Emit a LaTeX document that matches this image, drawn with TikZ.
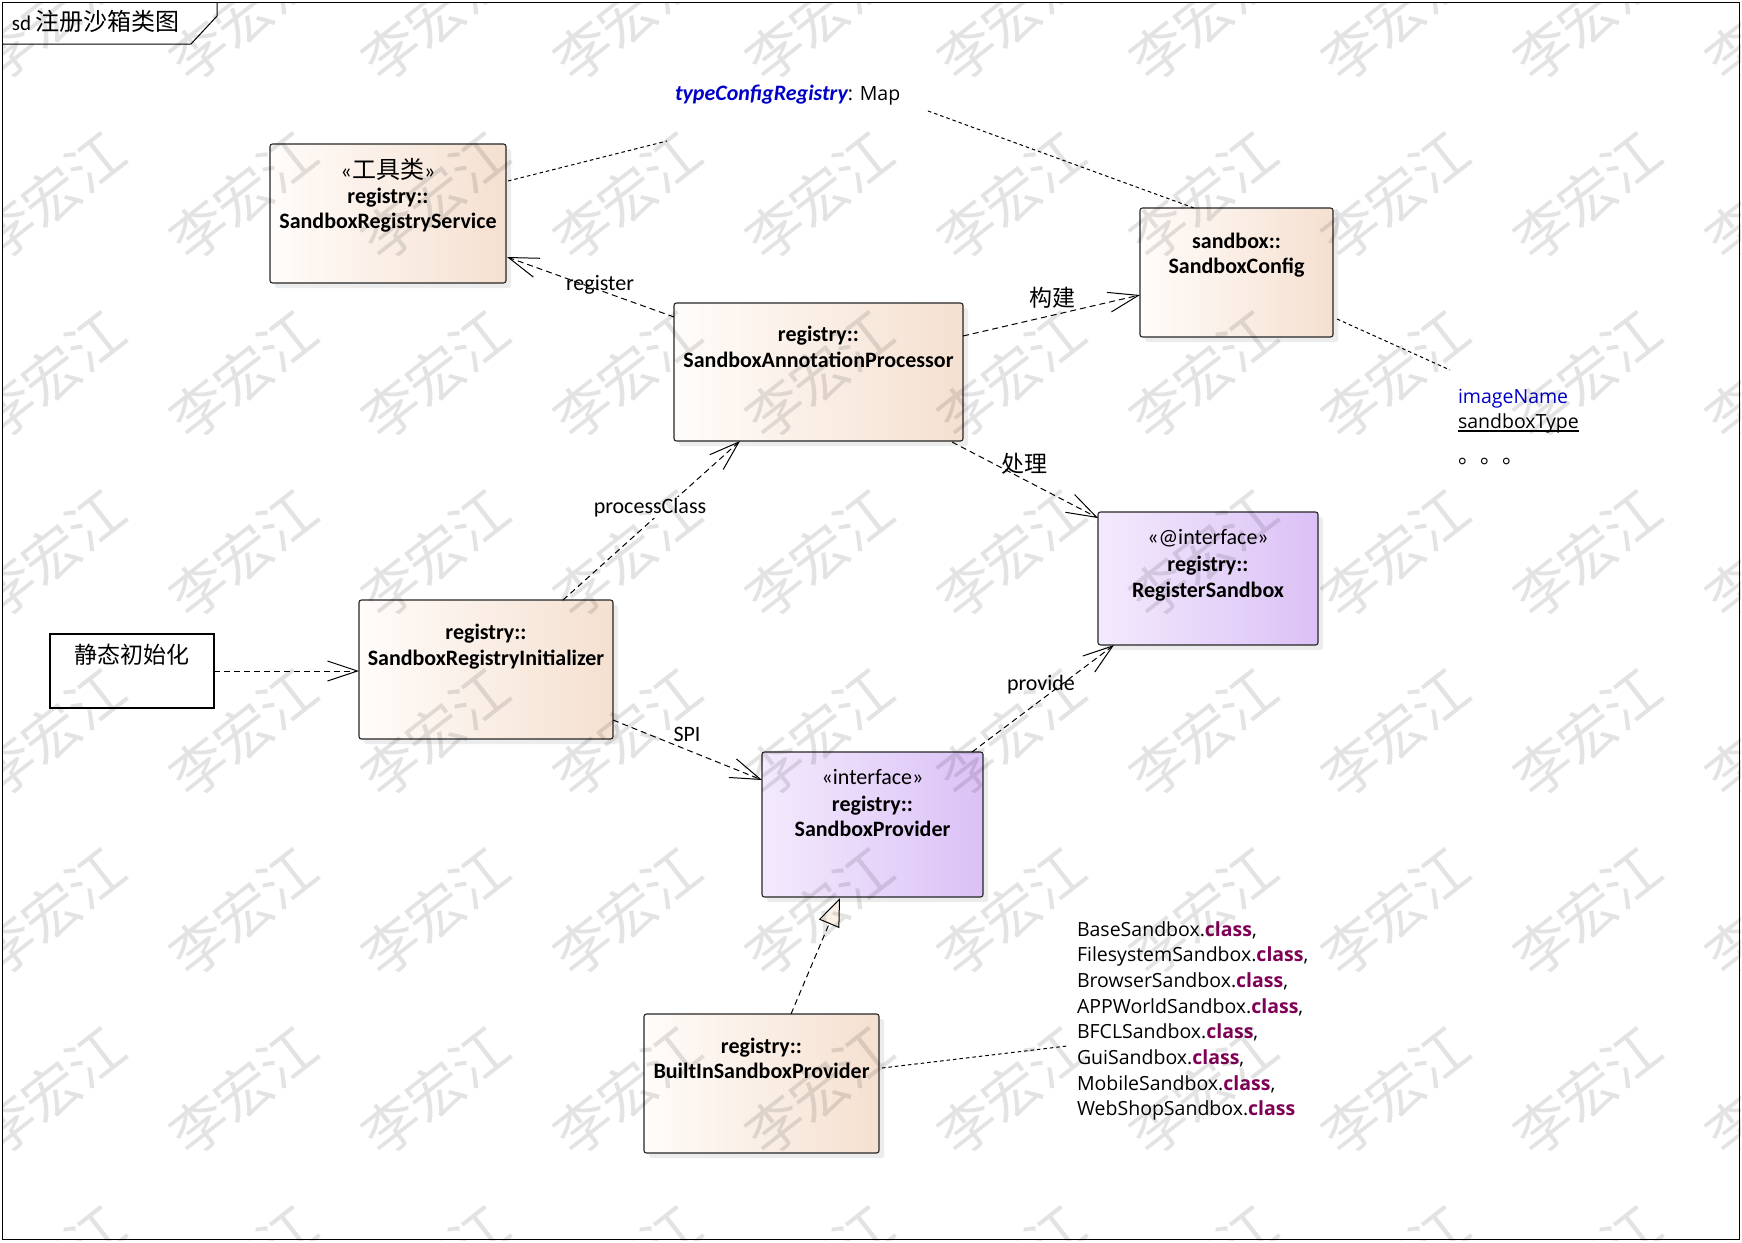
\documentclass[tikz,border=0pt]{standalone}
\usepackage{fontspec}
\setmainfont{Carlito}
\newfontfamily\cjk{Noto Sans CJK SC}
\newfontfamily\notefont{Open Sans}
\usetikzlibrary{arrows.meta,shadows,calc}
\definecolor{beigeL}{HTML}{FFFCFA}
\definecolor{beigeR}{HTML}{F5E0D0}
\definecolor{lilacL}{HTML}{F3EAFD}
\definecolor{lilacR}{HTML}{DBC1F6}
\definecolor{cream}{HTML}{FBF1E6}
\definecolor{kw}{HTML}{7F0055}
\definecolor{fblue}{HTML}{0000C8}
\begin{document}
\begin{tikzpicture}[x=1pt,y=-1pt,
  every node/.style={inner sep=0pt,outer sep=0pt},
  boxbase/.style={draw=black!85,line width=1.1pt,rounded corners=2.5pt,anchor=north west,
    drop shadow={shadow xshift=5pt,shadow yshift=-5pt,fill=black!14}},
  cls/.style={boxbase,left color=beigeL,right color=beigeR},
  ifc/.style={boxbase,left color=lilacL,right color=lilacR},
  bx/.style={anchor=base,font=\bfseries\fontsize{22}{26}\selectfont},
  lb/.style={anchor=base,font=\fontsize{22}{26}\selectfont},
  ck/.style={anchor=base,font=\cjk\fontsize{23}{26}\selectfont},
  nt/.style={anchor=base west,font=\notefont\fontsize{19.5}{24}\selectfont},
  dep/.style={draw=black,line width=1pt,dash pattern=on 6pt off 4pt,
    -{Straight Barb[length=30pt,width=20pt]}},
  real/.style={draw=black,line width=1pt,dash pattern=on 6pt off 4pt,
    -{Triangle[open,length=28pt,width=22pt,fill=cream]}},
  nline/.style={draw=black,line width=1pt,dash pattern=on 3.5pt off 3pt},
  wm/.style={font=\cjk\fontsize{56}{60}\selectfont,text=black,text opacity=0.11,rotate=38}
]
\useasboundingbox (0,0) rectangle (1742,1242);
\fill[white] (0,0) rectangle (1742,1242);

% frame and title tab
\draw[line width=1.2pt] (2.5,2.5) rectangle (1739.5,1239.5);
\draw[line width=1pt] (2.5,44) -- (191,44) -- (217,16) -- (217,2.5);
\node[anchor=base west,font=\fontsize{21}{24}\selectfont] (title) at (12,30)
  {sd {\cjk\fontsize{24}{26}\selectfont 注册沙箱类图}};

% class boxes
\node[cls,minimum width=236,minimum height=139] (srs) at (270,144) {};
\node[cls,minimum width=289,minimum height=138] (sap) at (674,303) {};
\node[cls,minimum width=193,minimum height=129] (sc) at (1140,208) {};
\node[ifc,minimum width=220,minimum height=133] (rs) at (1098,512) {};
\node[ifc,minimum width=221,minimum height=145] (sp) at (762,752) {};
\node[cls,minimum width=254,minimum height=139] (sri) at (359,600) {};
\node[cls,minimum width=235,minimum height=139] (bisp) at (644,1014) {};
\node[draw,line width=1.1pt,fill=white,anchor=north west,minimum width=164,minimum height=74] (init) at (50,634) {};

% box texts
\node[lb] (srs1) at (388,178) {«{\cjk\fontsize{24}{26}\selectfont 工具类}»};
\node[bx] (srs2) at (388,203) {registry::};
\node[bx] (srs3) at (388,228) {SandboxRegistryService};
\node[bx] (sap1) at (818.5,341) {registry::};
\node[bx] (sap2) at (818.5,367) {SandboxAnnotationProcessor};
\node[bx] (sc1) at (1236.5,248) {sandbox::};
\node[bx] (sc2) at (1236.5,273) {SandboxConfig};
\node[lb] (rs1) at (1208,544) {«@interface»};
\node[bx] (rs2) at (1208,571) {registry::};
\node[bx] (rs3) at (1208,597) {RegisterSandbox};
\node[lb] (sp1) at (872.5,784) {«interface»};
\node[bx] (sp2) at (872.5,811) {registry::};
\node[bx] (sp3) at (872.5,836) {SandboxProvider};
\node[bx] (sri1) at (486,639) {registry::};
\node[bx] (sri2) at (486,665) {SandboxRegistryInitializer};
\node[bx] (bisp1) at (761.5,1053) {registry::};
\node[bx] (bisp2) at (761.5,1078) {BuiltInSandboxProvider};
\node[ck] (init1) at (132,663) {静态初始化};

% notes
\node[anchor=base west] (tcr) at (675,100)
  {\fontsize{22}{24}\selectfont\color{fblue}\bfseries\itshape typeConfigRegistry\normalfont\color{black}\notefont\fontsize{19.5}{24}\selectfont: Map};
\coordinate (tcrL) at (667,141);
\coordinate (tcrR) at (928,111);
\node[nt] (imgn) at (1458,403) {\color{fblue}imageName};
\node[nt] (sbt) at (1458,428) {sandboxType};
\draw[line width=1.3pt] ($(sbt.base west)+(0,3)$) -- ($(sbt.base east)+(0,3)$);
\node[anchor=base west,font=\cjk\fontsize{22}{26}\selectfont] (dots) at (1458,463) {。。。};
\coordinate (imgL) at (1450,370);
\foreach \t [count=\i from 0] in {{BaseSandbox.{\color{kw}\bfseries class},},
  {FilesystemSandbox.{\color{kw}\bfseries class},},
  {BrowserSandbox.{\color{kw}\bfseries class},},
  {APPWorldSandbox.{\color{kw}\bfseries class},},
  {BFCLSandbox.{\color{kw}\bfseries class},},
  {GuiSandbox.{\color{kw}\bfseries class},},
  {MobileSandbox.{\color{kw}\bfseries class},},
  {WebShopSandbox.{\color{kw}\bfseries class}}}
  \node[nt] (cl\i) at (1077,936+25.7*\i) {\t};
\coordinate (clL) at (1067,1046);

% note links
\draw[nline] ($(srs.north east)+(2,37)$) -- (tcrL);
\draw[nline] (tcrR) -- ($(sc.north west)+(54,0)$);
\draw[nline] ($(sc.north east)+(4,111)$) -- (imgL);
\draw[nline] ($(bisp.north east)+(3,54)$) -- (clL);

% dependencies
\draw[dep] ($(sap.north west)+(0,14)$) -- ($(srs.south east)+(1,-26)$);
\draw[dep] ($(sap.north east)+(0,33)$) -- ($(sc.north west)+(0,87)$);
\draw[dep] ($(sap.south east)+(-11,1)$) -- ($(rs.north west)+(0,6)$);
\draw[dep] ($(sri.north west)+(204,0)$) -- ($(sap.south west)+(66,0)$);
\draw[dep] (init.east) -- (init.east -| sri.west);
\draw[dep] ($(sri.south east)+(0,-19)$) -- ($(sp.north west)+(0,28)$);
\draw[dep] ($(sp.north east)+(-11,0)$) -- ($(rs.south west)+(16,0)$);
\draw[real] ($(bisp.north west)+(147,0)$) -- ($(sp.south west)+(78,1)$);

% connector labels
\node[lb] (l-reg) at (600,290) {register};
\node[ck] (l-build) at (1052,306) {构建};
\node[ck] (l-proc) at (1024,472) {处理};
\node[lb,fill=white,inner ysep=1pt] (l-pc) at (650,513) {processClass};
\node[lb] (l-spi) at (687,741) {SPI};
\node[lb] (l-prov) at (1041,690) {provide};

% watermark
\begin{scope}
\clip (2,2) rectangle (1740,1240);
\foreach \i in {0,...,9}
  \foreach \j in {0,...,8}
    \node[wm] (wm\i x\j) at (243+192*\i-192, 375+179*\j-358) {李宏江};
\end{scope}
\end{tikzpicture}
\end{document}
